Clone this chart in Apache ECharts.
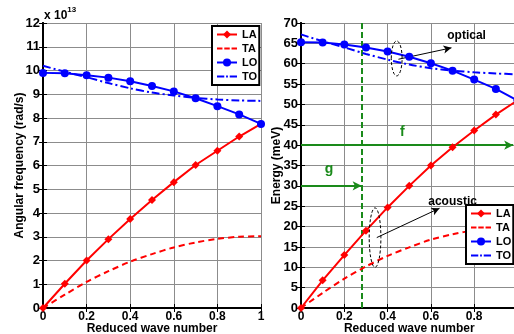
<!DOCTYPE html>
<html><head><meta charset="utf-8">
<script src="https://cdn.jsdelivr.net/npm/echarts@6/dist/echarts.min.js"></script>
<style>html,body{margin:0;padding:0;background:#fff}#c{width:514px;height:334px}</style>
</head><body><div id="c"></div>
<script>
// ---- data ----
var waveNumber = [0, 0.1, 0.2, 0.3, 0.4, 0.5, 0.6, 0.7, 0.8, 0.9, 1.0];
var seriesNames = ['LA', 'TA', 'LO', 'TO'];
// left panel: angular frequency (x 10^13 rad/s)
var omegaLA = [0, 1.02, 2.0, 2.9, 3.75, 4.55, 5.3, 6.02, 6.62, 7.22, 7.75];
var omegaTA = [0, 0.56, 1.1, 1.55, 1.95, 2.27, 2.55, 2.76, 2.91, 3.0, 3.02];
var omegaLO = [9.9, 9.88, 9.8, 9.7, 9.55, 9.35, 9.12, 8.83, 8.5, 8.15, 7.75];
var omegaTO = [10.2, 9.95, 9.72, 9.47, 9.25, 9.07, 8.95, 8.85, 8.78, 8.74, 8.72];
// right panel: energy (meV)
var energyLA = [0, 6.8, 13.0, 19.0, 24.7, 30.0, 35.0, 39.5, 43.6, 47.5, 51.0];
var energyTA = [0, 3.7, 7.2, 10.2, 12.8, 14.9, 16.8, 18.1, 19.1, 19.7, 19.9];
var energyLO = [65.3, 65.2, 64.7, 64.0, 63.0, 61.7, 60.1, 58.3, 56.1, 53.8, 51.0];
var energyTO = [67.2, 65.5, 64.0, 62.4, 61.0, 59.8, 58.9, 58.3, 57.9, 57.6, 57.4];
var leftYTicks = {min: 0, max: 12, interval: 1};
var rightYTicks = {min: 0, max: 70, interval: 5};
var xTicks = {min: 0, max: 1, interval: 0.2};
// annotations (right panel, data coords)
var markerQ = 0.28;          // green vertical dashed line
var arrowF = [[0, 40], [0.98, 40]];
var arrowG = [[0, 30], [0.28, 30]];
var arrowOptical = [[0.45, 61.1], [0.695, 63.9]];
var arrowAcoustic = [[0.35, 17.3], [0.64, 24.5]];
var ellipses = [[0.442, 61.3, 0.05, 8.6], [0.342, 17.3, 0.054, 14.6]]; // cx, cy, w, h
var labels = [
  {x: 0.765, y: 66.9, text: 'optical', color: '#000', size: 12},
  {x: 0.70, y: 26.2, text: 'acoustic', color: '#000', size: 12},
  {x: 0.468, y: 43.2, text: 'f', color: '#1a8a1a', size: 14},
  {x: 0.13, y: 34.1, text: 'g', color: '#1a8a1a', size: 14}
];

function pairs(ys) { return waveNumber.map(function (x, i) { return [x, ys[i]]; }); }

var FONT = 'Liberation Sans';
var RED = '#ff0000', BLUE = '#0000ff', GREEN = '#1a8a1a';
var G0 = {left: 43, top: 23, width: 218, height: 285};
var G1 = {left: 301, top: 23, width: 216.5, height: 285};

function xAx(gi) {
  return {
    type: 'value', gridIndex: gi, min: xTicks.min, max: xTicks.max, interval: xTicks.interval,
    name: 'Reduced wave number', nameLocation: 'middle', nameGap: 15, nameMoveOverlap: false,
    nameTextStyle: {fontFamily: FONT, fontWeight: 'bold', fontSize: 12, color: '#000'},
    axisLine: {show: true, onZero: false, lineStyle: {color: '#000', width: 2}},
    axisTick: {show: true, inside: true, length: 4, lineStyle: {color: '#000'}},
    axisLabel: {show: true, margin: 3, fontFamily: FONT, fontWeight: 'bold', fontSize: 12, color: '#000',
      hideOverlap: false,
      formatter: function (v) { return String(Math.round(v * 10) / 10); }},
    splitLine: {show: true, lineStyle: {color: '#8c8c8c', width: 1}}
  };
}
function xTop(gi) {
  return {type: 'value', gridIndex: gi, position: 'top', min: xTicks.min, max: xTicks.max, interval: xTicks.interval,
    axisLine: {show: true, lineStyle: {color: '#000', width: 2}},
    axisTick: {show: true, inside: true, length: 4, lineStyle: {color: '#000'}},
    axisLabel: {show: false}, splitLine: {show: false}};
}
function yAx(gi, t, name, gap) {
  return {
    type: 'value', gridIndex: gi, min: t.min, max: t.max, interval: t.interval,
    name: name, nameLocation: 'middle', nameGap: gap, nameMoveOverlap: false,
    nameTextStyle: {fontFamily: FONT, fontWeight: 'bold', fontSize: 12, color: '#000'},
    axisLine: {show: true, onZero: false, lineStyle: {color: '#000', width: 2}},
    axisTick: {show: true, inside: true, length: 4, lineStyle: {color: '#000'}},
    axisLabel: {show: true, margin: 3, fontFamily: FONT, fontWeight: 'bold', fontSize: 13, color: '#000'},
    splitLine: {show: true, lineStyle: {color: '#8c8c8c', width: 1}}
  };
}
function yRight(gi, t) {
  return {type: 'value', gridIndex: gi, position: 'right', min: t.min, max: t.max, interval: t.interval,
    axisLine: {show: true, lineStyle: {color: '#000', width: 2}},
    axisTick: {show: true, inside: true, length: 4, lineStyle: {color: '#000'}},
    axisLabel: {show: false}, splitLine: {show: false}};
}

function mkSeries(name, ys, xi, yi, kind) {
  var s = {name: name, type: 'line', xAxisIndex: xi, yAxisIndex: yi, data: pairs(ys), z: 5,
    animation: false, clip: true};
  if (kind === 'LA') {
    s.symbol = 'diamond'; s.symbolSize = 8; s.lineStyle = {color: RED, width: 2}; s.itemStyle = {color: RED};
  } else if (kind === 'TA') {
    s.symbol = 'none'; s.smooth = 0.3; s.lineStyle = {color: RED, width: 2, type: [6, 4]}; s.itemStyle = {color: RED};
  } else if (kind === 'LO') {
    s.symbol = 'circle'; s.symbolSize = 8; s.lineStyle = {color: BLUE, width: 2}; s.itemStyle = {color: BLUE};
  } else {
    s.symbol = 'none'; s.smooth = 0.3; s.lineStyle = {color: BLUE, width: 2, type: [8, 3, 2, 3]}; s.itemStyle = {color: BLUE};
  }
  return s;
}

var series = [
  mkSeries('LA', omegaLA, 0, 0, 'LA'), mkSeries('TA', omegaTA, 0, 0, 'TA'),
  mkSeries('LO', omegaLO, 0, 0, 'LO'), mkSeries('TO', omegaTO, 0, 0, 'TO'),
  mkSeries('LA', energyLA, 2, 2, 'LA'), mkSeries('TA', energyTA, 2, 2, 'TA'),
  mkSeries('LO', energyLO, 2, 2, 'LO'), mkSeries('TO', energyTO, 2, 2, 'TO')
];

// green annotations
series.push({
  type: 'line', xAxisIndex: 2, yAxisIndex: 2, data: [], silent: true, z: 4, animation: false,
  markLine: {
    silent: true, animation: false, symbol: ['none', 'arrow'], symbolSize: [7, 9],
    label: {show: false}, lineStyle: {color: GREEN, width: 2, type: 'solid'},
    data: [
      [{coord: arrowF[0]}, {coord: arrowF[1]}],
      [{coord: arrowG[0]}, {coord: arrowG[1]}],
      [{coord: [markerQ, rightYTicks.min], symbol: 'none'}, {coord: [markerQ, rightYTicks.max], symbol: 'none',
        lineStyle: {color: GREEN, width: 2, type: [6, 3]}}]
    ]
  }
});
// black arrows
series.push({
  type: 'line', xAxisIndex: 2, yAxisIndex: 2, data: [], silent: true, z: 6, animation: false,
  markLine: {
    silent: true, animation: false, symbol: ['none', 'arrow'], symbolSize: [6, 8],
    label: {show: false}, lineStyle: {color: '#000', width: 1, type: 'solid'},
    data: [
      [{coord: arrowOptical[0]}, {coord: arrowOptical[1]}],
      [{coord: arrowAcoustic[0]}, {coord: arrowAcoustic[1]}]
    ]
  }
});
// ellipses
series.push({
  type: 'custom', xAxisIndex: 2, yAxisIndex: 2, data: ellipses, silent: true, z: 6, animation: false,
  renderItem: function (params, api) {
    var c = api.coord([api.value(0), api.value(1)]);
    var s = api.size([api.value(2), api.value(3)]);
    return {type: 'ellipse', shape: {cx: c[0], cy: c[1], rx: s[0] / 2, ry: s[1] / 2},
      style: {fill: 'none', stroke: '#000', lineWidth: 1, lineDash: [3, 2]}};
  }
});
// text labels
series.push({
  type: 'custom', xAxisIndex: 2, yAxisIndex: 2, data: labels.map(function (l) { return [l.x, l.y]; }),
  silent: true, z: 7, animation: false,
  renderItem: function (params, api) {
    var l = labels[params.dataIndex];
    var c = api.coord([api.value(0), api.value(1)]);
    return {type: 'text', x: c[0], y: c[1], style: {text: l.text, fill: l.color,
      font: 'bold ' + l.size + 'px "' + FONT + '"', align: 'center', verticalAlign: 'middle'}};
  }
});

var ICON_TA = 'path://M0,0h6v2h-6z M8,0h6v2h-6z M16,0h6v2h-6z';
var ICON_TO = 'path://M0,0h8v2h-8z M10,0h2v2h-2z M14,0h8v2h-8z';

function legend(left, top) {
  return {
    data: [{name: 'LA'}, {name: 'TA', icon: ICON_TA}, {name: 'LO'}, {name: 'TO', icon: ICON_TO}],
    orient: 'vertical', left: left, top: top,
    itemWidth: 20, itemHeight: 10, itemGap: 3, padding: [3, 2, 3, 4],
    backgroundColor: '#fff', borderColor: '#000', borderWidth: 2, borderRadius: 0,
    textStyle: {fontFamily: FONT, fontWeight: 'bold', fontSize: 11, color: '#000'},
    selectedMode: false, z: 10
  };
}

var chart = echarts.init(document.getElementById('c'));
chart.setOption({
  backgroundColor: '#fff',
  animation: false,
  textStyle: {fontFamily: FONT},
  grid: [
    Object.assign({show: false, containLabel: false, outerBoundsMode: 'none'}, G0),
    Object.assign({show: false, containLabel: false, outerBoundsMode: 'none'}, G1)
  ],
  xAxis: [xAx(0), xTop(0), xAx(1), xTop(1)],
  yAxis: [yAx(0, leftYTicks, 'Angular frequency (rad/s)', 17), yRight(0, leftYTicks),
          yAx(1, rightYTicks, 'Energy (meV)', 18), yRight(1, rightYTicks)],
  legend: [legend(212, 26), legend(466, 205)],
  graphic: [{
    type: 'text', left: 44, top: 6,
    style: {text: '{a|x 10}{b|13}', rich: {
      a: {font: 'bold 12px "' + FONT + '"', fill: '#000', verticalAlign: 'bottom'},
      b: {font: 'bold 8px "' + FONT + '"', fill: '#000', padding: [0, 0, 8, 0], verticalAlign: 'top'}
    }}
  }],
  series: series
});
</script></body></html>
